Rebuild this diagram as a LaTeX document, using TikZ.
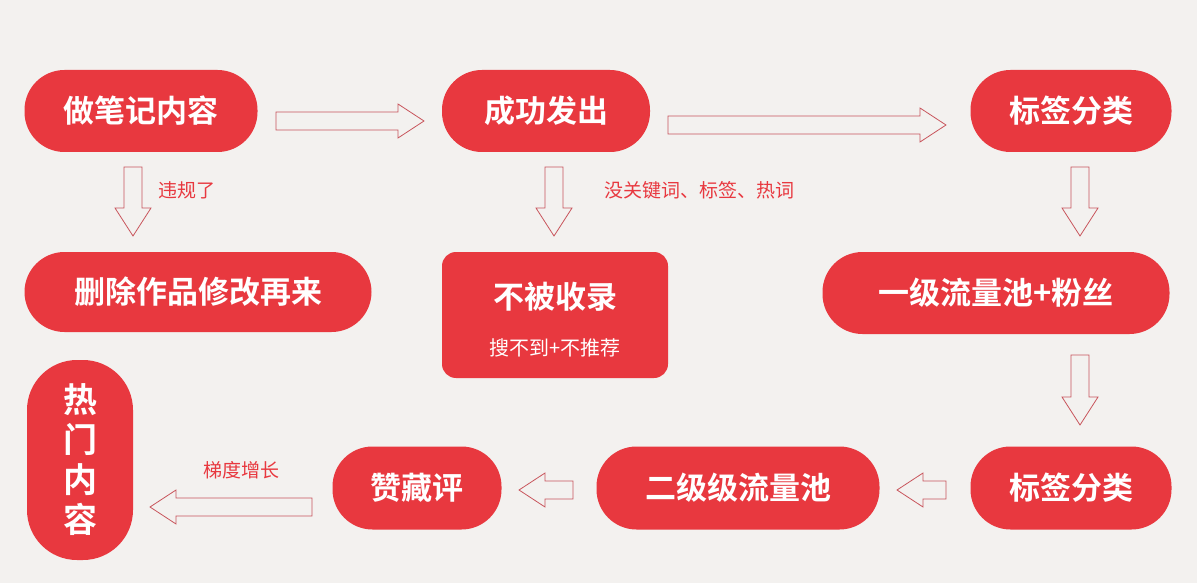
\documentclass[tikz,border=0pt]{standalone}
\usepackage{fontspec}
\setmainfont{Noto Sans CJK SC}
\newfontfamily\bfcjk{Noto Sans CJK SC Bold}
\definecolor{bg}{HTML}{F3F1EF}
\definecolor{rd}{HTML}{E8383F}
\definecolor{ol}{HTML}{C8555C}
\newcommand\myR[4]{% x0,x1,yc,name
\draw[arr] (#1,#3-9)--(#2-26,#3-9)--(#2-26,#3-17)--(#2,#3)--(#2-26,#3+17)--(#2-26,#3+9)--(#1,#3+9)--cycle;}
\newcommand\myL[3]{% x0(tip),x1,yc
\draw[arr] (#2,#3-9)--(#1+26,#3-9)--(#1+26,#3-17)--(#1,#3)--(#1+26,#3+17)--(#1+26,#3+9)--(#2,#3+9)--cycle;}
\newcommand\myD[3]{% xc,y0,y1
\draw[arr] (#1-9,#2)--(#1-9,#3-28)--(#1-18,#3-28)--(#1,#3)--(#1+18,#3-28)--(#1+9,#3-28)--(#1+9,#2)--cycle;}
\begin{document}
\begin{tikzpicture}[x=1pt,y=-1pt,
 pill/.style={fill=rd,rounded corners=40pt,text=white,font=\bfcjk\fontsize{31}{31}\selectfont,inner sep=0pt},
 arr/.style={draw=ol,fill=bg,line width=0.8pt},
 lab/.style={text=rd,font=\fontsize{19}{19}\selectfont}]
\fill[bg] (0,0) rectangle (1197,583);
\useasboundingbox (0,0) rectangle (1197,583);
\node[pill,minimum width=233pt,minimum height=82pt] (a) at (141,111) {做笔记内容};
\node[pill,minimum width=208pt,minimum height=82pt] (b) at (546,111) {成功发出};
\node[pill,minimum width=201pt,minimum height=82pt] (c) at (1071,111) {标签分类};
\node[pill,minimum width=347pt,minimum height=80pt] (d) at (198,292) {删除作品修改再来};
\node[pill,rounded corners=14pt,minimum width=226pt,minimum height=126pt] (e) at (555,315) {};
\node[text=white,font=\bfcjk\fontsize{31}{31}\selectfont] (e1) at (555,297) {不被收录};
\node[text=white,font=\fontsize{20}{20}\selectfont] (e2) at (555,348) {搜不到+不推荐};
\node[pill,minimum width=347pt,minimum height=82pt] (f) at (996,293) {一级流量池+粉丝};
\node[pill,minimum width=201pt,minimum height=83pt] (g) at (1071,488) {标签分类};
\node[pill,minimum width=283pt,minimum height=83pt] (h) at (738,488) {二级级流量池};
\node[pill,minimum width=169pt,minimum height=83pt] (i) at (417,488) {赞藏评};
\node[pill,rounded corners=50pt,minimum width=106pt,minimum height=200pt,align=center,font=\bfcjk\fontsize{34}{40}\selectfont] (j) at (80,460) {热\\门\\内\\容};
\myR{276}{424}{121}
\node[lab] (l1) at (340,90) {没有违规};
\myR{668}{946}{125}
\node[lab] (l2) at (790,90) {有关键词、标签、热词};
\myD{133}{167}{236}
\node[lab] (l3) at (187,190) {违规了};
\myD{554}{167}{236}
\node[lab] (l4) at (699,190) {没关键词、标签、热词};
\myD{1080}{167}{236}
\myD{1080}{355}{425}
\myL{897}{946}{490}
\myL{519}{573}{490}
\myL{150}{312}{507}
\node[lab] (l5) at (241,470) {梯度增长};
\end{tikzpicture}
\end{document}
